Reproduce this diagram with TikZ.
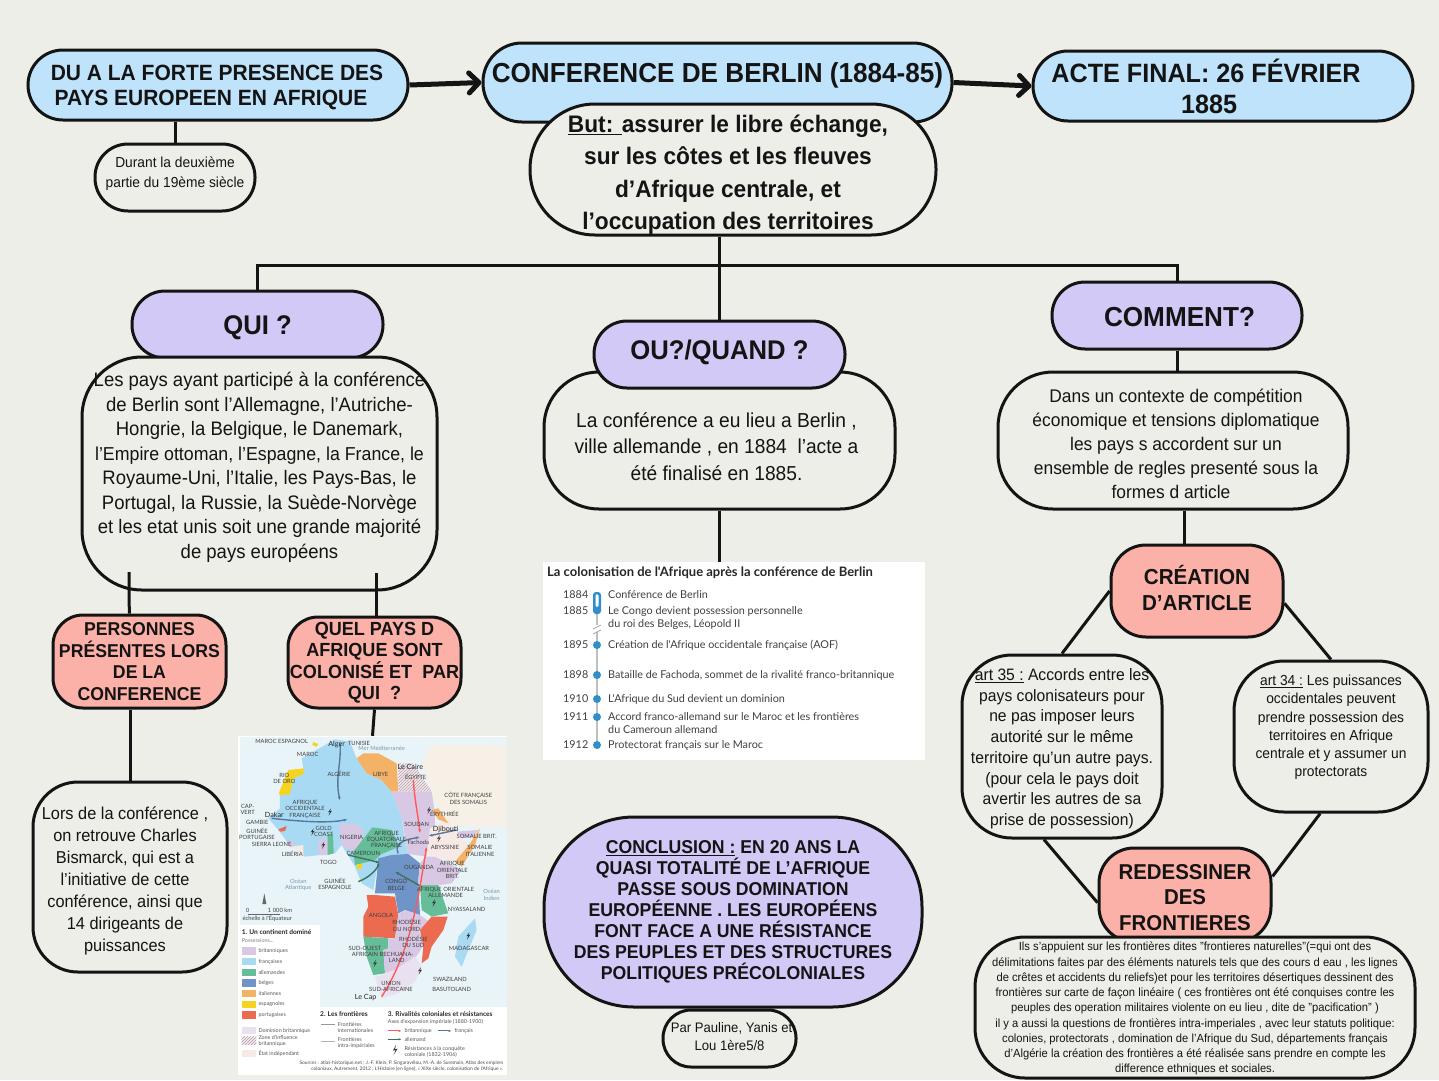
\documentclass[tikz,border=0pt]{standalone}
\usepackage{fontspec}
\setmainfont{Liberation Sans}[FakeStretch=0.95]
\newfontfamily\mapfont{Lato}
\usetikzlibrary{arrows.meta,patterns}
\definecolor{paper}{HTML}{EDEEE8}
\definecolor{ink}{HTML}{141414}
\definecolor{sky}{HTML}{BFE3FB}
\definecolor{lilac}{HTML}{D3C9F7}
\definecolor{salmon}{HTML}{FBB1A7}
\definecolor{mapfr}{HTML}{A9DAF3}
\definecolor{mapbr}{HTML}{D9C8E4}
\definecolor{mapde}{HTML}{66BE98}
\definecolor{mapbe}{HTML}{6F94C7}
\definecolor{mapit}{HTML}{F3B266}
\definecolor{mapes}{HTML}{F6D31F}
\definecolor{mappt}{HTML}{EC6B50}
\definecolor{mapsea}{HTML}{E9F4F8}
\definecolor{mapland}{HTML}{F6F0E6}
\definecolor{mapind}{HTML}{F6E9E6}
\definecolor{chronoblue}{HTML}{2F8FCB}
\tikzset{
    bubble/.style={draw=ink, line width=3pt, fill=paper, align=center, inner sep=0pt, text=ink},
    skybox/.style={bubble, fill=sky},
    lilacbox/.style={bubble, fill=lilac},
    salmonbox/.style={bubble, fill=salmon},
    link/.style={draw=ink, line width=3pt},
    bigarrow/.style={draw=ink, line width=5pt, -{Straight Barb[length=10pt,width=20pt,round]}},
    maplabel/.style={font=\mapfont\fontsize{5.8}{6.4}\selectfont, text=black!75, align=center, inner sep=0pt},
    citylabel/.style={font=\mapfont\fontsize{7.2}{8}\selectfont, text=black!85, inner sep=0pt},
    legendlabel/.style={font=\mapfont\fontsize{5.4}{6.2}\selectfont, text=black!65, align=left, anchor=west, inner sep=0pt},
    chronotext/.style={font=\mapfont\fontsize{10.8}{12}\selectfont, text=black!75, anchor=west, inner sep=0pt},
}
\begin{document}
\begin{tikzpicture}[x=1pt, y=-1pt]
    \useasboundingbox (0,0) rectangle (1439,1080);
    \fill[paper] (0,0) rectangle (1439,1080);

    \node[skybox, minimum width=380, minimum height=70, rounded corners=35, font=\bfseries\fontsize{22.1}{25}\selectfont] (forte) at (218,85) {\hspace*{-2pt}DU A LA FORTE PRESENCE DES\\\hspace*{-14pt}PAYS EUROPEEN EN AFRIQUE\\[-25pt]};
    \node[skybox, minimum width=469, minimum height=79, rounded corners=39, font=\bfseries\fontsize{27.5}{31}\selectfont] (conf) at (717.5,82.5) {\raisebox{0pt}[0pt][0pt]{CONFERENCE DE BERLIN (1884-85)}};
    \node[skybox, minimum width=380, minimum height=70, rounded corners=35, font=\bfseries\fontsize{26.5}{31}\selectfont] (acte) at (1223,86) {\hspace*{-34pt}ACTE FINAL: 26 FÉVRIER\\\hspace*{-28pt}1885};
    \node[bubble, minimum width=406, minimum height=131, rounded corners=65, font=\bfseries\fontsize{23.9}{32.3}\selectfont] (but) at (733,169.5) {\hspace*{-10pt}\underline{But: }assurer le libre échange,\\\hspace*{-10pt}sur les côtes et les fleuves\\\hspace*{-10pt}d’Afrique centrale, et\\\hspace*{-10pt}l’occupation des territoires\\[-37.6pt]};
    \node[bubble, minimum width=160, minimum height=67, rounded corners=33, font=\fontsize{14.5}{20}\selectfont] (durant) at (175,177.5) {Durant la deuxième\\partie du 19ème siècle\\[-10pt]};

    \node[lilacbox, minimum width=251, minimum height=67, rounded corners=33, font=\bfseries\fontsize{27}{30}\selectfont] (qui) at (257.5,324.5) {\raisebox{-10pt}[0pt][0pt]{QUI ?}};
    \node[bubble, minimum width=355, minimum height=233, rounded corners=60, font=\fontsize{19.5}{24.5}\selectfont] (quitext) at (259.5,473.5) {Les pays ayant participé à la conférence\\de Berlin sont l’Allemagne, l’Autriche-\\Hongrie, la Belgique, le Danemark,\\{\fontsize{18.7}{24.5}\selectfont l'Empire ottoman, l’Espagne, la France, le}\\Royaume-Uni, l’Italie, les Pays-Bas, le\\Portugal, la Russie, la Suède-Norvège\\et les etat unis soit une grande majorité\\de pays européens\\[-8.5pt]};
    \node[bubble, minimum width=351, minimum height=137, rounded corners=55, font=\fontsize{20.2}{26.5}\selectfont] (outext) at (719.5,440.5) {\\\hspace*{-6pt}La conférence a eu lieu a Berlin ,\\\hspace*{-6pt}ville allemande , en 1884~ l’acte a\\\hspace*{-6pt}été finalisé en 1885.};
    \node[lilacbox, minimum width=251, minimum height=67, rounded corners=33, font=\bfseries\fontsize{27}{30}\selectfont] (ou) at (719.5,354.5) {\raisebox{-4.5pt}[0pt][0pt]{OU?/QUAND ?}};
    \node[lilacbox, minimum width=250, minimum height=67, rounded corners=33, font=\bfseries\fontsize{27.5}{30}\selectfont] (comment) at (1177,315.5) {\raisebox{-10.5pt}[0pt][0pt]{\hspace*{5pt}COMMENT?}};
    \node[bubble, minimum width=350, minimum height=137, rounded corners=55, font=\fontsize{18.3}{24}\selectfont] (commenttext) at (1173,440.5) {\hspace*{6pt}Dans un contexte de compétition\\\hspace*{6pt}économique et tensions diplomatique\\\hspace*{6pt}les pays s accordent sur un\\\hspace*{6pt}ensemble de regles presenté sous la\\\hspace*{-4pt}formes d article\\[-31pt]};

    \node[salmonbox, minimum width=173, minimum height=93, rounded corners=30, font=\bfseries\fontsize{18.6}{21.5}\selectfont] (personnes) at (139.5,661.5) {PERSONNES\\PRÉSENTES LORS\\DE LA\\CONFERENCE};
    \node[salmonbox, minimum width=173, minimum height=91, rounded corners=30, font=\bfseries\fontsize{19}{21.5}\selectfont] (quel) at (374.5,662.5) {QUEL PAYS D\\AFRIQUE SONT\\COLONISÉ ET~ PAR\\QUI~ ?};
    \node[bubble, minimum width=194, minimum height=190, rounded corners=45, font=\fontsize{17.2}{22}\selectfont] (lors) at (130,877) {\hspace*{-10pt}Lors de la conférence ,\\\hspace*{-10pt}on retrouve Charles\\\hspace*{-10pt}Bismarck, qui est a\\\hspace*{-10pt}l’initiative de cette\\\hspace*{-10pt}conférence, ainsi que\\\hspace*{-10pt}14 dirigeants de\\\hspace*{-10pt}puissances\\[-26pt]};

    \node[salmonbox, minimum width=172, minimum height=92, rounded corners=35, font=\bfseries\fontsize{21.7}{26}\selectfont] (creation) at (1197,591) {CRÉATION\\D’ARTICLE\\[-20pt]};
    \node[bubble, minimum width=200, minimum height=183, rounded corners=50, font=\fontsize{16.5}{20.7}\selectfont] (artfive) at (1062,746.5) {\underline{art 35 :} Accords entre les\\pays colonisateurs pour\\ne pas imposer leurs\\autorité sur le même\\territoire qu’un autre pays.\\(pour cela le pays doit\\avertir les autres de sa\\prise de possession)\\[-21.7pt]};
    \node[bubble, minimum width=194, minimum height=151, rounded corners=50, font=\fontsize{14.5}{18.2}\selectfont] (artfour) at (1331,736.5) {\underline{art 34 :} Les puissances\\occidentales peuvent\\prendre possession des\\territoires en Afrique\\centrale et y assumer un\\protectorats\\[2.8pt]};
    \node[salmonbox, minimum width=172, minimum height=94, rounded corners=35, font=\bfseries\fontsize{21.5}{25.2}\selectfont] (redessiner) at (1185,895) {REDESSINER\\DES\\FRONTIERES\\[-30pt]};
    \node[bubble, minimum width=440, minimum height=141, rounded corners=50, font=\fontsize{11.8}{15.25}\selectfont] (frontieres) at (1195,1007.5) {Ils s'appuient sur les frontières dites "frontieres naturelles"(=qui ont des\\délimitations faites par des éléments naturels tels que des cours d eau , les lignes\\de crêtes et accidents du reliefs)et pour les territoires désertiques dessinent des\\frontières sur carte de façon linéaire ( ces frontières ont été conquises contre les\\peuples des operation militaires violente on eu lieu , dite de "pacification" )\\il y a aussi la questions de frontières intra-imperiales , avec leur statuts politique:\\colonies, protectorats , domination de l'Afrique du Sud, départements français\\d'Algérie la création des frontières a été réalisée sans prendre en compte les\\difference ethniques et sociales.\\[-15.2pt]};

    \node[lilacbox, minimum width=378, minimum height=190, rounded corners=90, font=\bfseries\fontsize{18.6}{21}\selectfont] (conclusion) at (733,912) {\underline{CONCLUSION :} EN 20 ANS LA\\QUASI TOTALITÉ DE L’AFRIQUE\\PASSE SOUS DOMINATION\\EUROPÉENNE . LES EUROPÉENS\\FONT FACE A UNE RÉSISTANCE\\DES PEUPLES ET DES STRUCTURES\\POLITIQUES PRÉCOLONIALES};
    \node[bubble, minimum width=133, minimum height=57, rounded corners=28, font=\fontsize{13.8}{18}\selectfont] (par) at (729.5,1038.5) {\hspace*{4pt}Par Pauline, Yanis et\\Lou 1ère5/8\\[-14pt]};

    \node[fill=white, minimum width=382, minimum height=198, inner sep=0pt] (chrono) at (734,661) {};
    \node[anchor=west, inner sep=0pt, font=\mapfont\bfseries\fontsize{13}{14}\selectfont, text=black!85] (chronotitle) at (547,573) {La colonisation de l'Afrique après la conférence de Berlin};
    \draw[black!25, line width=1.5pt] (597,595) -- (597,625);
    \draw[black!25, line width=1.5pt] (597,632) -- (597,745);
    \draw[black!35, line width=0.8pt] (593,629) -- (601,625) (593,634) -- (601,630);
    \fill[chronoblue, rounded corners=3pt] (593,592) rectangle (601,614);
    \fill[white, rounded corners=1.5pt] (595.5,594) rectangle (598.5,607);
    \foreach \yr/\yy/\txt [count=\i] in {1884/595/{Conférence de Berlin}, 1885/611/{Le Congo devient possession personnelle}, 1895/645/{Création de l'Afrique occidentale française (AOF)}, 1898/675/{Bataille de Fachoda, sommet de la rivalité franco-britannique}, 1910/699/{L'Afrique du Sud devient un dominion}, 1911/717/{Accord franco-allemand sur le Maroc et les frontières}, 1912/745/{Protectorat français sur le Maroc}} {
        \node[chronotext] (yr\i) at (563,\yy) {\yr};
        \node[chronotext] (ev\i) at (608,\yy) {\txt};
    }
    \foreach \yy in {645,675,699,717,745} {
        \fill[chronoblue] (597,\yy) circle (4);
    }
    \node[chronotext] (evb) at (608,624) {du roi des Belges, Léopold II};
    \node[chronotext] (evc) at (608,730) {du Cameroun allemand};

    \node[fill=white, minimum width=269, minimum height=339, inner sep=0pt] (carte) at (372.5,905.5) {};
    \begin{scope}[shift={(235,730)}, x=0.3333pt, y=-0.3333pt, line join=round]
        \fill[mapsea] (14,22) rectangle (815,830);
        \fill[mapland] (590,45) -- (815,45) -- (815,290) -- (735,290) -- (650,290) -- (600,215) -- (560,100) -- cycle;
        \fill[mapfr] (200,85) -- (300,28) -- (345,35) -- (365,85) -- (395,130) -- (440,150) -- (470,185) -- (500,260) -- (510,330) -- (520,372) -- (430,390) -- (415,480) -- (380,460) -- (360,410) -- (320,345) -- (300,370) -- (210,380) -- (160,340) -- (130,300) -- (100,265) -- (135,235) -- (135,190) -- (205,115) -- cycle;
        \fill[mapes] (132,188) -- (160,120) -- (207,115) -- (205,132) -- (175,145) -- (165,192) -- (135,197) -- cycle;
        \fill[mapes] (235,36) -- (250,42) -- (245,50) -- (232,45) -- cycle;
        \fill[mapit] (365,85) -- (385,70) -- (430,70) -- (485,100) -- (490,185) -- (470,185) -- (440,150) -- (395,130) -- cycle;
        \fill[mapind] (490,100) -- (535,100) -- (590,185) -- (490,185) -- cycle;
        \fill[pattern=north east lines, pattern color=mapbr!80!black] (490,100) -- (535,100) -- (590,185) -- (490,185) -- cycle;
        \fill[mapbr] (470,185) -- (590,185) -- (600,250) -- (600,300) -- (575,380) -- (520,372) -- (510,320) -- (500,260) -- cycle;
        \fill[mapbr] (312,285) -- (355,280) -- (385,295) -- (380,340) -- (352,365) -- (320,345) -- cycle;
        \fill[mapbr] (250,330) -- (275,325) -- (278,375) -- (250,375) -- cycle;
        \fill[mapbr] (155,335) -- (175,333) -- (178,350) -- (165,352) -- cycle;
        \fill[mapind] (170,350) -- (205,345) -- (205,380) -- cycle;
        \fill[mappt] (130,298) -- (155,288) -- (150,303) -- (135,305) -- cycle;
        \fill[mapde] (278,315) -- (294,310) -- (296,370) -- (278,375) -- cycle;
        \fill[mapde] (355,365) -- (412,292) -- (470,300) -- (492,350) -- (440,372) -- (420,390) -- (360,405) -- cycle;
        \fill[mapes] (365,403) -- (380,403) -- (380,416) -- (365,416) -- cycle;
        \fill[mapbe] (430,385) -- (470,375) -- (520,372) -- (555,400) -- (550,450) -- (555,555) -- (510,540) -- (490,550) -- (480,490) -- (420,490) -- (425,440) -- cycle;
        \fill[mappt] (395,495) -- (420,495) -- (480,500) -- (490,555) -- (480,625) -- (385,620) -- (385,560) -- (400,530) -- cycle;
        \fill[mapde] (385,620) -- (460,625) -- (460,655) -- (445,660) -- (450,730) -- (415,735) -- (395,680) -- cycle;
        \fill[mapbr] (490,552) -- (510,540) -- (555,555) -- (590,580) -- (550,600) -- (570,640) -- (530,700) -- (480,720) -- (450,730) -- (445,660) -- (462,655) -- (462,625) -- (480,625) -- cycle;
        \fill[mappt] (590,560) -- (638,560) -- (625,600) -- (590,650) -- (580,685) -- (560,700) -- (565,650) -- (555,600) -- cycle;
        \fill[mapbr!55!white] (420,740) -- (450,733) -- (480,720) -- (540,680) -- (560,710) -- (540,755) -- (490,790) -- (440,805) -- cycle;
        \fill[mapde] (555,465) -- (610,465) -- (640,550) -- (590,560) -- (560,540) -- cycle;
        \fill[mapbr] (570,380) -- (600,380) -- (680,420) -- (650,460) -- (615,465) -- (555,465) -- (550,450) -- (555,400) -- cycle;
        \fill[mapind] (585,295) -- (640,270) -- (655,300) -- (700,345) -- (660,395) -- (600,380) -- (575,375) -- cycle;
        \fill[mapit] (590,240) -- (610,235) -- (640,280) -- (610,268) -- cycle;
        \fill[mapbr] (665,305) -- (730,300) -- (715,322) -- (680,325) -- cycle;
        \fill[mapit] (735,295) -- (720,345) -- (680,410) -- (660,395) -- (702,345) -- (715,325) -- cycle;
        \fill[mapfr] (720,565) -- (725,600) -- (680,710) -- (660,680) -- (670,620) -- cycle;

        \draw[mapbe!80!black, line width=1.4pt, -{Latex[length=4pt]}] (315,40) .. controls (320,100) and (300,140) .. (315,212);
        \draw[mapbe!80!black, line width=1.4pt, -{Latex[length=4pt]}] (110,265) .. controls (200,275) and (280,280) .. (338,268);
        \draw[mapbe!80!black, line width=1.4pt, -{Latex[length=4pt]}] (490,370) .. controls (470,330) and (540,325) .. (555,320);
        \draw[mapbe!80!black, line width=1.4pt, -{Latex[length=4pt]}] (665,300) -- (580,318);
        \draw[mapde!60!black, line width=1.4pt, -{Latex[length=4pt]}] (370,455) .. controls (410,440) and (430,410) .. (430,395);
        \draw[mapde!60!black, line width=1.4pt, -{Latex[length=4pt]}] (340,375) -- (435,398);
        \draw[mapde!60!black, line width=1.4pt, -{Latex[length=4pt]}] (560,470) -- (480,425);
        \draw[red!65!white, line width=1.4pt, -{Latex[length=4pt]}] (535,150) .. controls (540,220) and (550,260) .. (555,310);
        \draw[red!65!white, line width=1.4pt, -{Latex[length=4pt]}] (440,800) .. controls (530,660) and (550,500) .. (575,350);

        \foreach \bx/\by in {285/245,233/305,265/345,582/240,612/325,700/617,420/700,597/518,555/722} {
            \fill[black!80] (\bx+3,\by-10) -- (\bx-6,\by+2) -- (\bx,\by) -- (\bx-4,\by+12) -- (\bx+6,\by-3) -- (\bx,\by-1) -- cycle;
        }

        \foreach \lx/\ly/\ltxt [count=\i] in {140/33/MAROC ESPAGNOL, 218/73/MAROC, 372/41/TUNISIE, 148/145/{RIO\\DE ORO}, 312/130/ALGÉRIE, 437/132/LIBYE, 542/140/ÉGYPTE, 210/238/{AFRIQUE\\OCCIDENTALE\\FRANÇAISE}, 38/238/{CAP-\\VERT}, 67/277/GAMBIE, 66/312/{GUINÉE\\PORTUGAISE}, 110/344/SIERRA LEONE, 172/372/LIBÉRIA, 266/305/{GOLD\\COAST}, 350/322/NIGERIA, 280/398/TOGO, 455/330/{AFRIQUE\\ÉQUATORIALE\\FRANÇAISE}, 385/370/CAMEROUN, 300/462/{GUINÉE\\ESPAGNOLE}, 700/205/{CÔTE FRANÇAISE\\DES SOMALIS}, 628/252/ÉRYTHRÉE, 545/284/SOUDAN, 550/338/Fachoda, 630/352/ABYSSINIE, 725/318/SOMALIE BRIT., 735/363/{SOMALIE\\ITALIENNE}, 652/420/{AFRIQUE\\ORIENTALE\\BRIT.}, 552/412/OUGANDA, 484/465/{CONGO\\BELGE}, 632/488/{AFRIQUE ORIENTALE\\ALLEMANDE}, 438/555/ANGOLA, 515/586/{RHODÉSIE\\DU NORD}, 535/636/{RHODÉSIE\\DU SUD}, 695/537/NYASSALAND, 390/665/{SUD-OUEST\\AFRICAIN}, 485/682/{BECHUANA-\\LAND}, 702/655/MADAGASCAR, 645/747/SWAZILAND, 650/778/BASUTOLAND, 468/770/{UNION\\SUD-AFRICAINE}} {
            \node[maplabel] (lbl\i) at (\lx,\ly) {\ltxt};
        }
        \node[citylabel] (alger) at (305,42) {Alger};
        \node[citylabel] (caire) at (526,112) {Le Caire};
        \node[citylabel] (dakar) at (118,255) {Dakar};
        \node[citylabel] (djibouti) at (632,298) {Djibouti};
        \node[citylabel] (lecap) at (392,802) {Le Cap};
        \node[maplabel, text=mapfr!70!black] (oceana) at (190,465) {Océan\\Atlantique};
        \node[maplabel, text=mapfr!70!black] (oceanb) at (770,495) {Océan\\Indien};
        \node[maplabel, text=mapfr!70!black] (merm) at (440,55) {Mer Méditerranée};
        \node[maplabel, anchor=west] (echelle) at (22,566) {échelle à l'Équateur};
        \node[maplabel] (echzero) at (38,541) {0};
        \node[maplabel] (echkm) at (135,541) {1 000 km};
        \draw[black!60, line width=0.6pt] (38,552) -- (135,552);
        \fill[black!60] (88,490) -- (94,522) -- (82,522) -- cycle;

        \fill[white] (14,585) rectangle (255,830);
        \fill[white] (14,830) rectangle (815,1035);
        \node[anchor=west, inner sep=0pt, font=\mapfont\bfseries\fontsize{6.6}{7}\selectfont, text=black!85] (legone) at (20,605) {1. Un continent dominé};
        \node[legendlabel, text=black!50] (legposs) at (20,632) {Possessions...};
        \foreach \lyy/\lcol/\ltxt [count=\i] in {663/mapbr/britanniques, 695/mapfr/françaises, 727/mapde/allemandes, 759/mapbe/belges, 791/mapit/italiennes, 823/mapes/espagnoles, 855/mappt/portugaises} {
            \fill[\lcol] (20,\lyy-11) rectangle (64,\lyy+11);
            \node[legendlabel] (poss\i) at (70,\lyy) {\ltxt};
        }
        \fill[mapbr!55!white] (20,892) rectangle (64,912);
        \fill[mapind] (20,920) rectangle (64,945);
        \fill[pattern=north east lines, pattern color=mapbr!80!black] (20,920) rectangle (64,945);
        \fill[mapind] (20,960) rectangle (64,982);
        \node[legendlabel] (domin) at (70,902) {Dominion britannique};
        \node[legendlabel] (zone) at (70,933) {Zone d'influence\\britannique};
        \node[legendlabel] (etat) at (70,971) {État indépendant};
        \node[anchor=west, inner sep=0pt, font=\mapfont\bfseries\fontsize{6.6}{7}\selectfont, text=black!85] (legtwo) at (255,852) {2. Les frontières};
        \draw[black!40, line width=0.5pt] (258,884) -- (300,884);
        \draw[black!30, line width=0.5pt] (258,935) -- (300,935);
        \node[legendlabel] (frinter) at (308,892) {Frontières\\internationales};
        \node[legendlabel] (frintra) at (308,939) {Frontières\\intra-impériales};
        \node[anchor=west, inner sep=0pt, font=\mapfont\bfseries\fontsize{6.6}{7}\selectfont, text=black!85] (legthree) at (458,852) {3. Rivalités coloniales et résistances};
        \node[legendlabel] (axes) at (458,877) {Axes d'expansion impériale (1880-1900)};
        \draw[red!65!white, line width=1pt, -{Latex[length=3pt]}] (458,903) -- (500,903);
        \node[legendlabel] (axbr) at (508,903) {britannique};
        \draw[mapbe!80!black, line width=1pt, -{Latex[length=3pt]}] (608,903) -- (650,903);
        \node[legendlabel] (axfr) at (658,903) {français};
        \draw[mapde!60!black, line width=1pt, -{Latex[length=3pt]}] (458,928) -- (500,928);
        \node[legendlabel] (axde) at (508,928) {allemand};
        \fill[black!80] (483,945) -- (474,962) -- (482,960) -- (476,975) -- (488,956) -- (480,958) -- cycle;
        \node[legendlabel] (resis) at (508,965) {Résistances à la conquête\\coloniale (1832-1906)};
        \node[anchor=east, inner sep=0pt, font=\mapfont\fontsize{4.9}{5.8}\selectfont, text=black!70, align=right] (source) at (805,1008) {Sources : atlas-historique.net ; J.-F. Klein, P. Singaravélou, M.-A. de Suremain, Atlas des empires\\coloniaux, Autrement, 2012 ; L'Histoire [en ligne], « XIXe siècle, colonisation de l'Afrique ».};
    \end{scope}

    \coordinate (hub) at (718,265);
    \coordinate (stubl) at (129,572);
    \coordinate (stubr) at (376,573);

    \draw[bigarrow] (forte.east) -- (conf.west);
    \draw[bigarrow] (conf.east) -- (acte.west);
    \draw[link] (forte.south -| durant.north) -- (durant.north);
    \draw[link] (but.south -| ou.north) -- (ou.north);
    \draw[link] (qui.north) |- (hub) -| (comment.north);
    \draw[link] (stubl) -- (personnes.102);
    \draw[link] (stubr) -- (stubr |- quel.north);
    \draw[link] (lors.north |- personnes.south) -- (lors.north);
    \draw[link] (quel.south) -- (carte.north);
    \draw[link] (outext.south) -- (chrono.north -| outext.south);
    \draw[link] (comment.south) -- (comment.south |- commenttext.north);
    \draw[link] (commenttext.south -| creation.105) -- (creation.105);
    \draw[link] (creation.west) -- (artfive.north);
    \draw[link] (creation.-8) -- (artfour.north);
    \draw[link] (artfive.-101) -- (redessiner.185);
    \draw[link] (artfour.-98) -- (redessiner.12);
\end{tikzpicture}
\end{document}
